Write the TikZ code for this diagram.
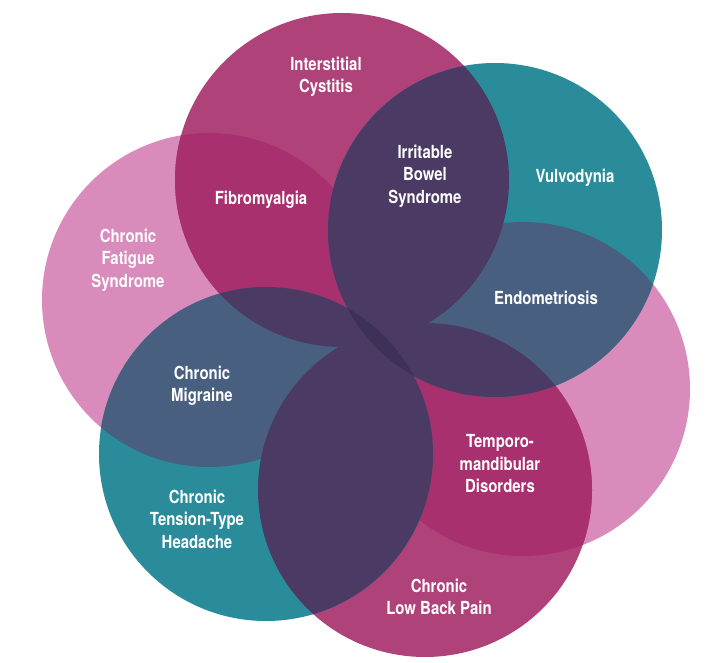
\documentclass[tikz,border=0pt]{standalone}
\usepackage{fontspec}
\setmainfont{TeX Gyre Heros}[FakeStretch=0.83]
\usepackage{tikz}

\definecolor{plum}{HTML}{B0427A}
\definecolor{sea}{HTML}{2A8B9A}
\definecolor{rose}{HTML}{D98BBB}
\definecolor{berry}{HTML}{A8306F}
\definecolor{slate}{HTML}{495F7F}
\definecolor{grape}{HTML}{4B3A63}
\definecolor{night}{HTML}{3E3157}

\begin{document}
\begin{tikzpicture}
            [x=1pt, y=-1pt,
             petal/.style={radius=167pt},
             disease/.style={text=white, inner sep=0pt, align=center,
                             font=\bfseries\fontsize{18}{22.5}\selectfont}]
            \useasboundingbox (0, 0) rectangle (720, 663);
            % centres of the six circles
            \coordinate (cTop) at (342, 180);
            \coordinate (cUpRight) at (495, 230);
            \coordinate (cRight) at (523, 389);
            \coordinate (cBottom) at (425, 490);
            \coordinate (cLowLeft) at (266, 454);
            \coordinate (cLeft) at (209, 300);
            % single circles
            \fill [rose] (cRight) circle [petal] (cLeft) circle [petal];
            \fill [plum] (cTop) circle [petal] (cBottom) circle [petal];
            \fill [sea] (cUpRight) circle [petal] (cLowLeft) circle [petal];
            % overlaps
            \foreach \a/\b in {cTop/cLeft, cTop/cRight, cBottom/cRight, cBottom/cLeft}
              {\begin{scope} \clip (\a) circle [petal]; \fill [berry] (\b) circle [petal]; \end{scope}}
            \foreach \a/\b in {cUpRight/cRight, cUpRight/cLeft, cLowLeft/cLeft, cLowLeft/cRight}
              {\begin{scope} \clip (\a) circle [petal]; \fill [slate] (\b) circle [petal]; \end{scope}}
            \foreach \a/\b in {cTop/cUpRight, cTop/cLowLeft, cBottom/cUpRight, cBottom/cLowLeft}
              {\begin{scope} \clip (\a) circle [petal]; \fill [grape] (\b) circle [petal]; \end{scope}}
            \begin{scope} \clip (cUpRight) circle [petal]; \fill [night] (cLowLeft) circle [petal]; \end{scope}
            % labels
            \node [disease] (cystitis) at (326, 77) {Interstitial\\Cystitis};
            \node [disease] (fibro) at (261, 200) {Fibromyalgia};
            \node [disease] (fatigue) at (128, 260) {Chronic\\Fatigue\\Syndrome};
            \node [disease] (bowel) at (425, 176) {Irritable\\Bowel\\Syndrome};
            \node [disease] (vulvo) at (575, 178) {Vulvodynia};
            \node [disease] (endo) at (546, 298) {Endometriosis};
            \node [disease] (migraine) at (202, 386) {Chronic\\Migraine};
            \node [disease] (tension) at (197, 519) {Chronic\\Tension-Type\\Headache};
            \node [disease] (jaw) at (500, 464) {Temporo-\\mandibular\\Disorders};
            \node [disease] (back) at (439, 597) {Chronic\\Low Back Pain};
        \end{tikzpicture}
\end{document}
